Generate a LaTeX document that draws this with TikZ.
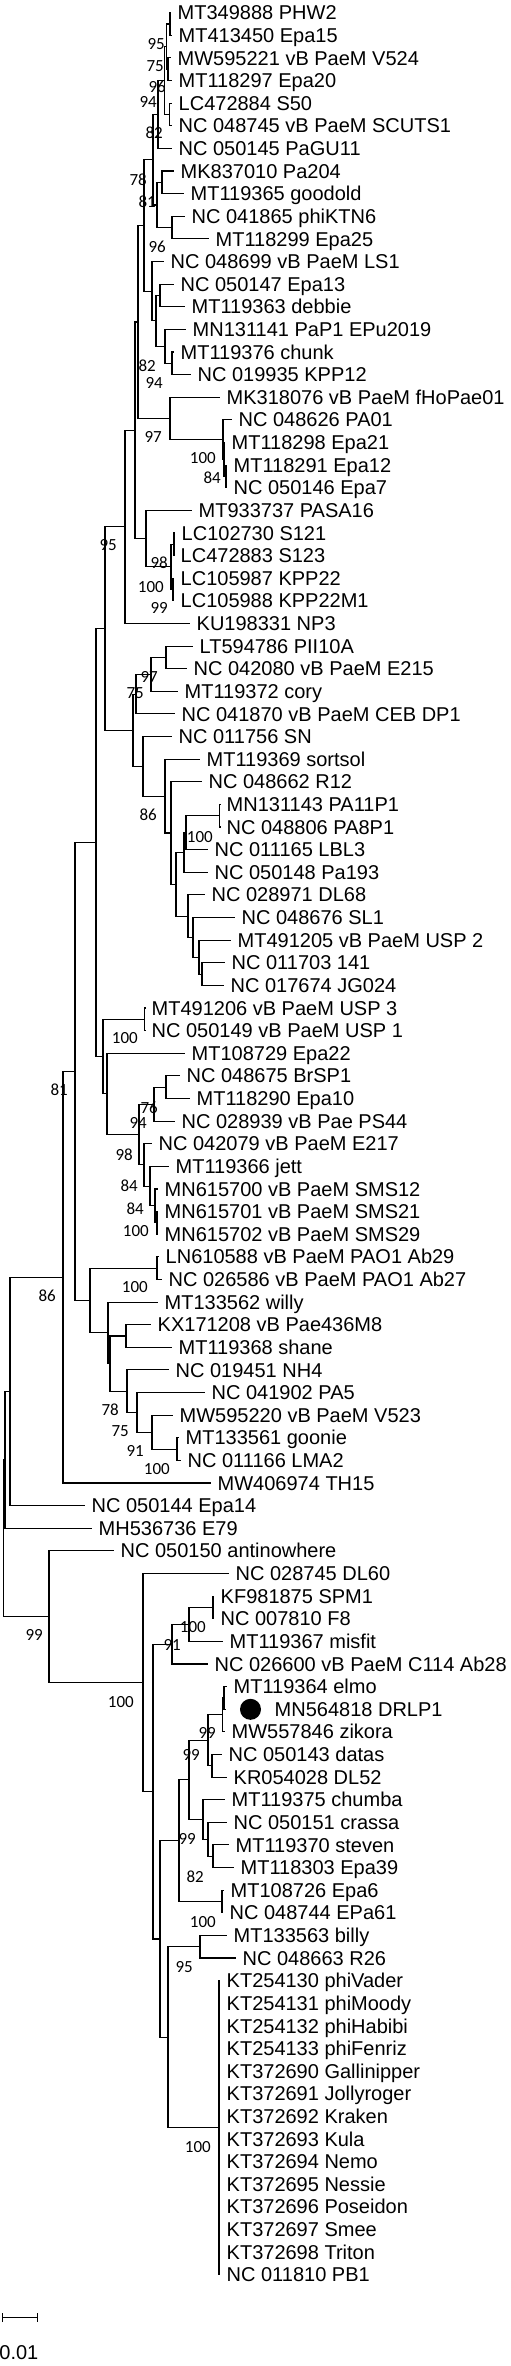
\documentclass[tikz,border=0pt]{standalone}
\usepackage{fontspec}
\setmainfont{Liberation Sans}
\newfontfamily\bsfont{Carlito}
\usetikzlibrary{arrows.meta,calc}
\tikzset{
  twig/.style={line width=1.1pt},
  leaflbl/.style={anchor=base west, inner sep=0pt, font=\fontsize{20}{22}\selectfont, xshift=6.5pt, yshift=-7.1pt},
  bslbl/.style={anchor=east, inner sep=0pt, font=\bsfont\fontsize{17}{18}\selectfont},
}
\newcommand\LY[1]{12.7+(#1-1)*22.62}
\newcommand\leaf[4]{\coordinate (#1) at (#3,{\LY{#2}}); \node[leaflbl] (#1-t) at (#1) {#4};}
\newcommand\inode[4]{\path let \p1=(#3), \p2=(#4) in coordinate (#1) at (#2pt,{0.5*(\y1+\y2)}); \draw[twig] (#1) |- (#3); \draw[twig] (#1) |- (#4);}
\newcommand\bs[4]{\node[bslbl] (#1) at (#2,#3) {#4};}
\begin{document}
\begin{tikzpicture}[x=1pt,y=-1pt]
\useasboundingbox (0,0) rectangle (511,2366);
% leaves
\leaf{l1}{1}{171}{MT349888 PHW2}
\leaf{l2}{2}{172}{MT413450 Epa15}
\leaf{l3}{3}{171}{MW595221 vB PaeM V524}
\leaf{l4}{4}{172}{MT118297 Epa20}
\leaf{l5}{5}{172}{LC472884 S50}
\leaf{l6}{6}{172}{NC 048745 vB PaeM SCUTS1}
\leaf{l7}{7}{172}{NC 050145 PaGU11}
\leaf{l8}{8}{174}{MK837010 Pa204}
\leaf{l9}{9}{184}{MT119365 goodold}
\leaf{l10}{10}{185}{NC 041865 phiKTN6}
\leaf{l11}{11}{209}{MT118299 Epa25}
\leaf{l12}{12}{164}{NC 048699 vB PaeM LS1}
\leaf{l13}{13}{174}{NC 050147 Epa13}
\leaf{l14}{14}{185}{MT119363 debbie}
\leaf{l15}{15}{186}{MN131141 PaP1 EPu2019}
\leaf{l16}{16}{174}{MT119376 chunk}
\leaf{l17}{17}{191}{NC 019935 KPP12}
\leaf{l18}{18}{220}{MK318076 vB PaeM fHoPae01}
\leaf{l19}{19}{232}{NC 048626 PA01}
\leaf{l20}{20}{225}{MT118298 Epa21}
\leaf{l21}{21}{227}{MT118291 Epa12}
\leaf{l22}{22}{227}{NC 050146 Epa7}
\leaf{l23}{23}{192}{MT933737 PASA16}
\leaf{l24}{24}{175}{LC102730 S121}
\leaf{l25}{25}{174}{LC472883 S123}
\leaf{l26}{26}{174}{LC105987 KPP22}
\leaf{l27}{27}{174}{LC105988 KPP22M1}
\leaf{l28}{28}{190}{KU198331 NP3}
\leaf{l29}{29}{193}{LT594786 PII10A}
\leaf{l30}{30}{187}{NC 042080 vB PaeM E215}
\leaf{l31}{31}{178}{MT119372 cory}
\leaf{l32}{32}{175}{NC 041870 vB PaeM CEB DP1}
\leaf{l33}{33}{172}{NC 011756 SN}
\leaf{l34}{34}{200}{MT119369 sortsol}
\leaf{l35}{35}{202}{NC 048662 R12}
\leaf{l36}{36}{220}{MN131143 PA11P1}
\leaf{l37}{37}{220}{NC 048806 PA8P1}
\leaf{l38}{38}{208}{NC 011165 LBL3}
\leaf{l39}{39}{208}{NC 050148 Pa193}
\leaf{l40}{40}{205}{NC 028971 DL68}
\leaf{l41}{41}{235}{NC 048676 SL1}
\leaf{l42}{42}{231}{MT491205 vB PaeM USP 2}
\leaf{l43}{43}{225}{NC 011703 141}
\leaf{l44}{44}{224}{NC 017674 JG024}
\leaf{l45}{45}{145}{MT491206 vB PaeM USP 3}
\leaf{l46}{46}{145}{NC 050149 vB PaeM USP 1}
\leaf{l47}{47}{185}{MT108729 Epa22}
\leaf{l48}{48}{180}{NC 048675 BrSP1}
\leaf{l49}{49}{190}{MT118290 Epa10}
\leaf{l50}{50}{175}{NC 028939 vB Pae PS44}
\leaf{l51}{51}{152}{NC 042079 vB PaeM E217}
\leaf{l52}{52}{169}{MT119366 jett}
\leaf{l53}{53}{158}{MN615700 vB PaeM SMS12}
\leaf{l54}{54}{158}{MN615701 vB PaeM SMS21}
\leaf{l55}{55}{158}{MN615702 vB PaeM SMS29}
\leaf{l56}{56}{159}{LN610588 vB PaeM PAO1 Ab29}
\leaf{l57}{57}{162}{NC 026586 vB PaeM PAO1 Ab27}
\leaf{l58}{58}{158}{MT133562 willy}
\leaf{l59}{59}{151}{KX171208 vB Pae436M8}
\leaf{l60}{60}{172}{MT119368 shane}
\leaf{l61}{61}{169}{NC 019451 NH4}
\leaf{l62}{62}{205}{NC 041902 PA5}
\leaf{l63}{63}{173}{MW595220 vB PaeM V523}
\leaf{l64}{64}{179}{MT133561 goonie}
\leaf{l65}{65}{181}{NC 011166 LMA2}
\leaf{l66}{66}{211}{MW406974 TH15}
\leaf{l67}{67}{85}{NC 050144 Epa14}
\leaf{l68}{68}{92}{MH536736 E79}
\leaf{l69}{69}{114}{NC 050150 antinowhere}
\leaf{l70}{70}{229}{NC 028745 DL60}
\leaf{l71}{71}{214}{KF981875 SPM1}
\leaf{l72}{72}{214}{NC 007810 F8}
\leaf{l73}{73}{223}{MT119367 misfit}
\leaf{l74}{74}{208}{NC 026600 vB PaeM C114 Ab28}
\leaf{l75}{75}{227}{MT119364 elmo}
\coordinate (l76) at (226,{\LY{76}});
\node[circle,fill=black,minimum size=21pt,inner sep=0pt] (dot) at (250.5,1709.3) {};
\node[leaflbl] (l76-t) at (268,{\LY{76}}) {MN564818 DRLP1};
\leaf{l77}{77}{225}{MW557846 zikora}
\leaf{l78}{78}{222}{NC 050143 datas}
\leaf{l79}{79}{227}{KR054028 DL52}
\leaf{l80}{80}{225}{MT119375 chumba}
\leaf{l81}{81}{227}{NC 050151 crassa}
\leaf{l82}{82}{229}{MT119370 steven}
\leaf{l83}{83}{234}{MT118303 Epa39}
\leaf{l84}{84}{224}{MT108726 Epa6}
\leaf{l85}{85}{223}{NC 048744 EPa61}
\leaf{l86}{86}{227}{MT133563 billy}
\leaf{l87}{87}{236}{NC 048663 R26}
\leaf{l88}{88}{220}{KT254130 phiVader}
\leaf{l89}{89}{220}{KT254131 phiMoody}
\leaf{l90}{90}{220}{KT254132 phiHabibi}
\leaf{l91}{91}{220}{KT254133 phiFenriz}
\leaf{l92}{92}{220}{KT372690 Gallinipper}
\leaf{l93}{93}{220}{KT372691 Jollyroger}
\leaf{l94}{94}{220}{KT372692 Kraken}
\leaf{l95}{95}{220}{KT372693 Kula}
\leaf{l96}{96}{220}{KT372694 Nemo}
\leaf{l97}{97}{220}{KT372695 Nessie}
\leaf{l98}{98}{220}{KT372696 Poseidon}
\leaf{l99}{99}{220}{KT372697 Smee}
\leaf{l100}{100}{220}{KT372698 Triton}
\leaf{l101}{101}{220}{NC 011810 PB1}
% internal nodes
\inode{a12}{170}{l1}{l2}
\inode{ve}{168}{l3}{l4}
\inode{vtop}{166.5}{a12}{ve}
\inode{ss}{169.5}{l5}{l6}
\inode{n94}{164.5}{vtop}{ss}
\inode{npg}{158}{n94}{l7}
\inode{pg}{162}{l8}{l9}
\inode{kt6}{172}{l10}{l11}
\inode{npa}{157}{pg}{kt6}
\inode{n78}{153}{npg}{npa}
\inode{ed}{160}{l13}{l14}
\inode{ck}{172}{l16}{l17}
\inode{pck}{165}{l15}{ck}
\inode{n156}{156}{ed}{pck}
\inode{nls}{152}{l12}{n156}
\inode{ntop}{144}{n78}{nls}
\inode{e7}{226}{l21}{l22}
\inode{e21}{224}{l20}{e7}
\inode{pa}{223}{l19}{e21}
\inode{fho}{170}{l18}{pa}
\inode{np}{138}{ntop}{fho}
\inode{s12}{174}{l24}{l25}
\inode{kk}{173}{l26}{l27}
\inode{sk}{171}{s12}{kk}
\inode{pasa}{146}{l23}{sk}
\inode{g}{135}{np}{pasa}
\inode{n95}{125}{g}{l28}
\inode{pe}{166}{l29}{l30}
\inode{pc}{151}{pe}{l31}
\inode{n136}{136}{pc}{l32}
\inode{pp}{219.5}{l36}{l37}
\inode{lb}{186}{pp}{l38}
\inode{n184}{184}{lb}{l39}
\inode{jg}{202}{l43}{l44}
\inode{u2}{199}{l42}{jg}
\inode{sl}{193}{l41}{u2}
\inode{dl}{188}{l40}{sl}
\inode{n176}{176}{n184}{dl}
\inode{n171}{171}{l35}{n176}
\inode{n165}{165}{l34}{n171}
\inode{n143}{143}{l33}{n165}
\inode{n133}{133}{n136}{n143}
\inode{n105}{105}{n95}{n133}
\inode{up}{144.5}{l45}{l46}
\inode{be}{166}{l48}{l49}
\inode{n154}{154}{be}{l50}
\inode{ss2}{157}{l54}{l55}
\inode{ss1}{155}{l53}{ss2}
\inode{nj}{150}{l52}{ss1}
\inode{ne}{144}{l51}{nj}
\inode{n139}{139}{n154}{ne}
\inode{n107}{107}{l47}{n139}
\inode{n103}{103}{up}{n107}
\inode{n96}{96}{n105}{n103}
\inode{ab}{157}{l56}{l57}
\inode{ps}{126}{l59}{l60}
\inode{gl}{177}{l64}{l65}
\inode{n152}{152}{l63}{gl}
\inode{n137}{137}{l62}{n152}
\inode{n127}{127}{l61}{n137}
\inode{n110}{110}{ps}{n127}
\inode{n108}{108}{l58}{n110}
\inode{n90}{90}{ab}{n108}
\inode{n75}{75}{n96}{n90}
\inode{n63}{63}{n75}{l66}
\inode{n10}{10}{n63}{l67}
\inode{n5}{5}{n10}{l68}
\inode{spf}{213}{l71}{l72}
\inode{n189}{189}{spf}{l73}
\inode{n172}{172}{n189}{l74}
\inode{ed2}{224}{l75}{l76}
\inode{ez}{222.5}{ed2}{l77}
\inode{dd}{212}{l78}{l79}
\inode{n208}{208}{ez}{dd}
\inode{se}{213}{l82}{l83}
\inode{cs}{208}{l81}{se}
\inode{ch}{203}{l80}{cs}
\inode{nch}{189}{n208}{ch}
\inode{e6}{222}{l84}{l85}
\inode{n179}{179}{nch}{e6}
\inode{bry}{200}{l86}{l87}
\path let \p1=(l88), \p2=(l101) in coordinate (kt) at (219pt,{0.5*(\y1+\y2)});
\foreach \c in {l88,l89,l90,l91,l92,l93,l94,l95,l96,l97,l98,l99,l100,l101} {\draw[twig] (kt) |- (\c);}
\inode{n168}{168}{bry}{kt}
\inode{n160}{160}{n179}{n168}
\inode{n153b}{153}{n172}{n160}
\inode{n143b}{143}{l70}{n153b}
\inode{nb}{49}{l69}{n143b}
\inode{root}{3.3}{n5}{nb}
% bootstrap values
\bs{b1}{165}{44.5}{95}
\bs{b2}{164}{66}{75}
\bs{b3}{166}{87.2}{96}
\bs{b4}{157}{102}{94}
\bs{b5}{163}{133}{82}
\bs{b6}{147}{180}{78}
\bs{b7}{156}{202}{81}
\bs{b8}{166}{247}{96}
\bs{b9}{156}{365.7}{82}
\bs{b10}{163}{383}{94}
\bs{b11}{162}{437}{97}
\bs{b12}{216}{458}{100}
\bs{b13}{221}{478}{84}
\bs{b14}{117}{545}{95}
\bs{b15}{168}{563}{98}
\bs{b16}{164}{587}{100}
\bs{b17}{168}{608}{99}
\bs{b18}{158}{677}{97}
\bs{b19}{144}{693}{75}
\bs{b20}{157}{815}{86}
\bs{b21}{213}{837}{100}
\bs{b22}{138}{1038}{100}
\bs{b23}{158}{1108}{76}
\bs{b24}{147}{1123}{94}
\bs{b25}{133}{1155}{98}
\bs{b26}{138}{1186}{84}
\bs{b27}{144}{1209}{84}
\bs{b28}{149}{1231}{100}
\bs{b29}{68}{1090}{81}
\bs{b30}{56}{1296}{86}
\bs{b31}{148}{1287}{100}
\bs{b32}{119}{1410}{78}
\bs{b33}{129}{1431}{75}
\bs{b34}{144}{1451}{91}
\bs{b35}{170}{1469}{100}
\bs{b36}{43}{1635}{99}
\bs{b37}{134}{1702}{100}
\bs{b38}{206}{1627}{100}
\bs{b39}{181}{1645}{91}
\bs{b40}{216}{1733}{99}
\bs{b41}{200}{1755}{99}
\bs{b42}{196}{1839}{99}
\bs{b43}{204}{1877}{82}
\bs{b44}{216}{1922}{100}
\bs{b45}{193}{1967}{95}
\bs{b46}{211}{2147}{100}
% scale bar
\coordinate (sbA) at (1.7,2317.7);
\coordinate (sbB) at (37.7,2317.7);
\draw[twig,{Bar[width=9pt]}-{Bar[width=9pt]}] (sbA) -- (sbB);
\node[anchor=base west,inner sep=0pt,font=\fontsize{20}{22}\selectfont] (sbt) at (-0.8,2359.5) {0.01};
\end{tikzpicture}
\end{document}
